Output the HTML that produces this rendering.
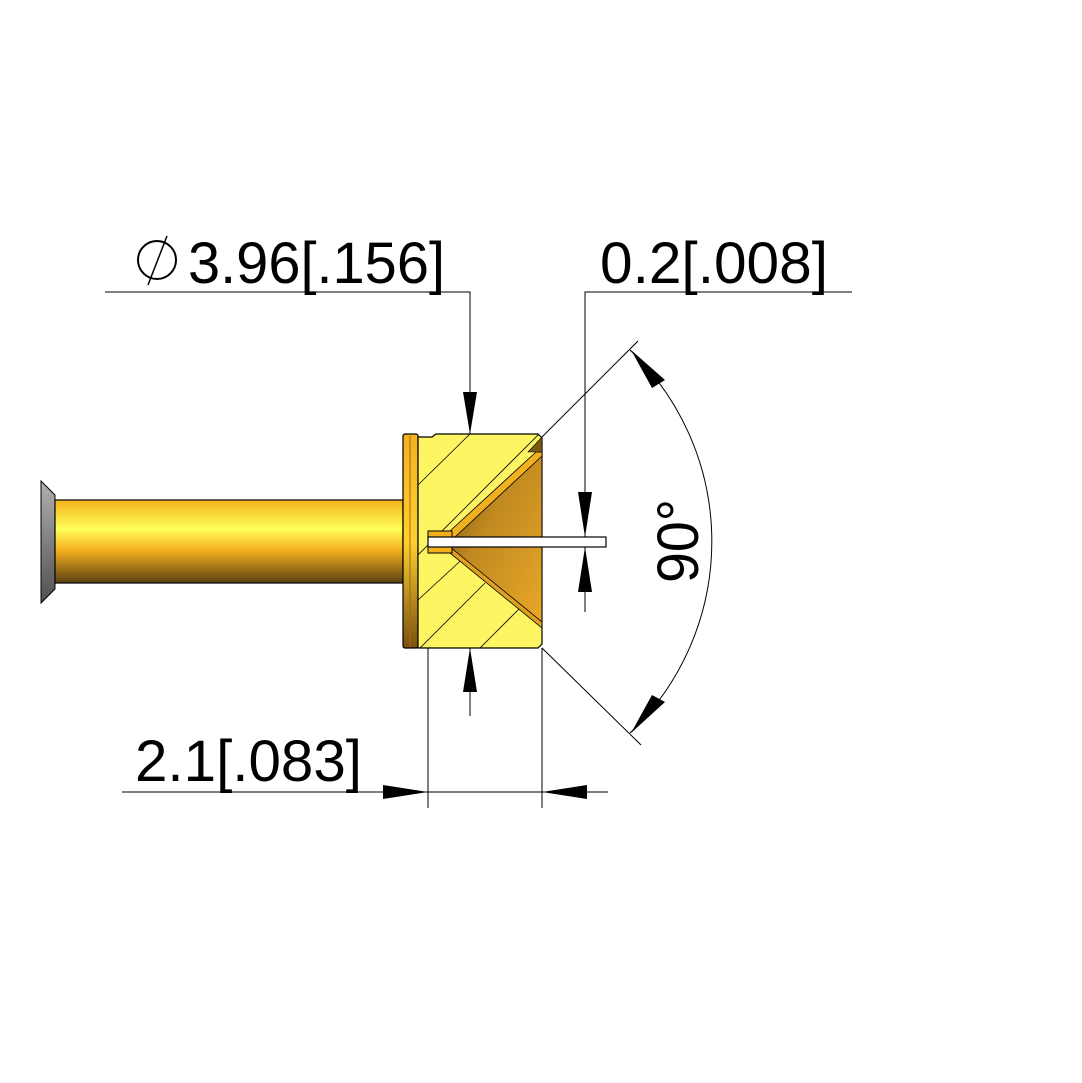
<!DOCTYPE html>
<html><head><style>body{margin:0;background:#fff}svg{display:block}</style></head><body>
<svg width="1082" height="1083" viewBox="0 0 1082 1083" xmlns="http://www.w3.org/2000/svg">
<defs>
<linearGradient id="tube" x1="0" y1="0" x2="0" y2="1">
<stop offset="0" stop-color="#f5b41c"/><stop offset="0.35" stop-color="#ffff5a"/><stop offset="0.6" stop-color="#f5b020"/><stop offset="1" stop-color="#5a4010"/></linearGradient>
<linearGradient id="grey" x1="0" y1="0" x2="0" y2="1"><stop offset="0" stop-color="#b0b0b0"/><stop offset="1" stop-color="#505050"/></linearGradient>
<linearGradient id="flange" x1="0" y1="0" x2="0" y2="1"><stop offset="0" stop-color="#f5b020"/><stop offset="0.5" stop-color="#ffd030"/><stop offset="1" stop-color="#7a5010"/></linearGradient>
<linearGradient id="cone" x1="0" y1="0" x2="1" y2="1"><stop offset="0" stop-color="#6a4a10"/><stop offset="0.4" stop-color="#c08820"/><stop offset="1" stop-color="#e8a828"/></linearGradient>
<clipPath id="bodyclip"><polygon points="418,434 542,434 542,648 418,648"/></clipPath>
</defs>
<polygon points="41,481 55,495 55,589 41,603" fill="url(#grey)" stroke="#000" stroke-width="1"/>
<rect x="55" y="500" width="348" height="83" fill="url(#tube)" stroke="#000" stroke-width="1.2"/>
<rect x="403" y="434" width="15" height="214" rx="2" fill="url(#flange)" stroke="#000" stroke-width="1.2"/>
<line x1="410" y1="436" x2="410" y2="646" stroke="#a06a10" stroke-width="1"/>
<polygon points="418,437 432,437 436,434 538,434 542,438 542,644 538,648 418,648" fill="#fdf562" stroke="#000" stroke-width="1.2"/>
<g clip-path="url(#bodyclip)" stroke="#000" stroke-width="0.8">
<line x1="418" y1="485" x2="470" y2="434"/>
<line x1="418" y1="555" x2="540" y2="433"/>
<line x1="418" y1="600" x2="470" y2="552"/>
<line x1="418" y1="650" x2="485" y2="583"/>
<line x1="478" y1="650" x2="520" y2="608"/>
<line x1="430" y1="650" x2="432" y2="648"/>
</g>
<polygon points="450,537 542,452 542,625 450,547" fill="url(#cone)" stroke="#000" stroke-width="1"/>
<polygon points="450,531 536,452 542,452 542,456 455,537 450,537" fill="#f0b020" stroke="#000" stroke-width="0.8"/>
<polygon points="450,547 542,622 542,628 450,553" fill="#e0a020" stroke="#000" stroke-width="0.8"/>
<polygon points="528,452 542,437 542,452" fill="#7a5a10" stroke="#000" stroke-width="0.6"/>
<rect x="428" y="531" width="24" height="22" fill="#f5b020" stroke="#000" stroke-width="1"/>
<rect x="428" y="537" width="178" height="10" fill="#fff" stroke="#000" stroke-width="1.2"/>
<g stroke="#000" stroke-width="1" fill="none">
<polyline points="105,292 470,292 470,434"/>
<line x1="470" y1="648" x2="470" y2="716"/>
<polyline points="852,292 585,292 585,537"/>
<line x1="585" y1="547" x2="585" y2="612"/>
<line x1="122" y1="792" x2="608" y2="792"/>
<line x1="428" y1="648" x2="428" y2="808"/>
<line x1="542" y1="648" x2="542" y2="808"/>
<line x1="542" y1="437" x2="638" y2="341"/>
<line x1="542" y1="648" x2="641" y2="745"/>
<path d="M630,350 A265,265 0 0 1 630,733"/>
</g>
<g fill="#000">
<polygon points="470,434 463,392 477,392"/>
<polygon points="470,648 463,692 477,692"/>
<polygon points="585,537 578,492 592,492"/>
<polygon points="585,547 578,592 592,592"/>
<polygon points="428,792 383,785 383,799"/>
<polygon points="542,792 587,785 587,799"/>
<polygon points="631,350 665,380 652,388"/>
<polygon points="631,733 665,702 652,695"/>
</g>
<g font-family="Liberation Sans, sans-serif" font-size="58" fill="#000">
<text x="188" y="283" textLength="257" lengthAdjust="spacingAndGlyphs">3.96[.156]</text>
<text x="600" y="283" textLength="228" lengthAdjust="spacingAndGlyphs">0.2[.008]</text>
<text x="135" y="781" textLength="227" lengthAdjust="spacingAndGlyphs">2.1[.083]</text>
<text transform="translate(698,541) rotate(-90)" text-anchor="middle" textLength="84" lengthAdjust="spacingAndGlyphs">90°</text>
</g>
<circle cx="157" cy="260" r="19" fill="none" stroke="#000" stroke-width="2"/>
<line x1="148" y1="285" x2="167" y2="236" stroke="#000" stroke-width="1.5"/>
</svg>
</body></html>
